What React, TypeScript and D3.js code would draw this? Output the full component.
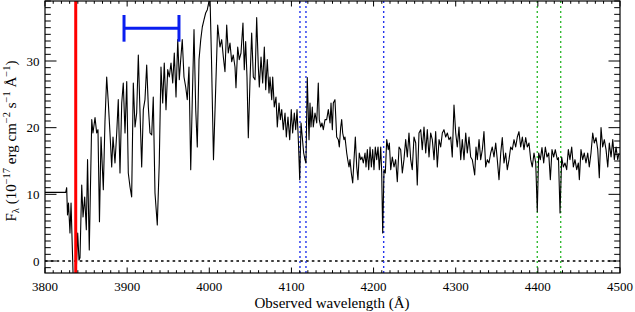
import React from 'react';
import * as d3 from 'd3';

// Observed wavelength (Å)
const wavelength = [
  3800, 3825.2, 3826.4, 3827.4, 3828.6, 3830.4, 3831.7, 3833.7, 3834.7, 3836.5, 3838.3, 3839.8, 3841.4, 3842.6,
  3844.7, 3846.3, 3848.3, 3850.3, 3851.8, 3853.9, 3856.9, 3858.4, 3860.9, 3862.9, 3864.5, 3866.3, 3868.2, 3871.0,
  3873.0, 3875.1, 3877.1, 3879.1, 3881.2, 3882.8, 3885.2, 3887.3, 3889.2, 3891.3, 3893.4, 3895.3, 3897.4, 3899.5,
  3901.4, 3903.5, 3905.5, 3907.5, 3909.6, 3911.6, 3913.6, 3915.7, 3917.7, 3919.7, 3921.7, 3923.8, 3925.8, 3927.8,
  3929.9, 3931.8, 3933.9, 3936.7, 3939.1, 3941.2, 3943.3, 3945.2, 3947.3, 3949.4, 3951.3, 3953.4, 3955.5, 3957.4,
  3959.5, 3961.6, 3963.5, 3965.2, 3967.1, 3969.2, 3971.3, 3973.2, 3975.3, 3977.4, 3979.3, 3981.4, 3983.5, 3985.4,
  3987.5, 3989.6, 3991.5, 3993.6, 3995.6, 3997.6, 3999.7, 4000.9, 4002.7, 4005.1, 4010.2, 4013.0, 4015.1, 4017.1,
  4019.1, 4021.2, 4023.1, 4025.2, 4027.3, 4029.2, 4031.3, 4032.5, 4034.6, 4036.5, 4038.6, 4041.0, 4042.6, 4044.3,
  4045.9, 4047.5, 4049.6, 4051.6, 4053.6, 4055.7, 4057.7, 4059.7, 4060.9, 4063.0, 4065.0, 4067.0, 4068.7, 4070.6,
  4072.7, 4073.9, 4076.0, 4077.2, 4079.1, 4081.2, 4082.8, 4084.9, 4086.5, 4088.2, 4090.1, 4092.2, 4093.8, 4095.8,
  4097.9, 4099.8, 4101.5, 4103.5, 4105.2, 4106.8, 4108.4, 4110.1, 4111.7, 4113.2, 4114.9, 4116.5, 4117.7, 4119.3,
  4121.4, 4122.6, 4123.8, 4125.4, 4126.6, 4128.7, 4130.8, 4132.7, 4133.9, 4135.6, 4137.2, 4138.8, 4140.9, 4142.9,
  4144.9, 4147.0, 4148.2, 4149.8, 4151.0, 4153.0, 4155.1, 4157.1, 4158.3, 4160.0, 4161.2, 4162.4, 4164.0, 4165.2,
  4167.3, 4168.5, 4170.1, 4171.3, 4172.9, 4174.6, 4176.2, 4177.8, 4179.5, 4181.0, 4182.6, 4184.3, 4185.9, 4187.5,
  4189.6, 4190.8, 4192.4, 4194.1, 4195.7, 4197.3, 4198.9, 4200.5, 4202.1, 4203.8, 4205.4, 4207.0, 4208.7, 4209.9,
  4211.1, 4212.7, 4214.3, 4216.0, 4217.9, 4219.2, 4220.9, 4222.8, 4224.9, 4226.9, 4228.9, 4231.0, 4233.0, 4235.0,
  4237.0, 4239.1, 4241.1, 4243.1, 4245.2, 4247.1, 4249.2, 4251.3, 4253.2, 4255.3, 4257.4, 4259.3, 4261.4, 4263.5,
  4265.4, 4267.5, 4269.5, 4271.5, 4273.6, 4275.6, 4277.6, 4279.7, 4281.7, 4283.7, 4285.7, 4287.8, 4289.8, 4291.8,
  4293.9, 4295.8, 4297.9, 4300.0, 4301.9, 4304.0, 4306.1, 4308.0, 4310.1, 4312.2, 4314.1, 4316.2, 4318.2, 4320.2,
  4323.1, 4324.7, 4326.3, 4328.4, 4330.4, 4332.4, 4334.4, 4336.5, 4338.5, 4340.5, 4342.6, 4344.5, 4346.6, 4348.7,
  4350.6, 4352.7, 4354.8, 4356.7, 4358.8, 4360.8, 4362.8, 4364.9, 4366.9, 4368.9, 4371.0, 4373.0, 4375.0, 4377.0,
  4379.1, 4381.1, 4383.1, 4385.2, 4387.1, 4389.2, 4391.3, 4393.2, 4395.3, 4397.4, 4399.3, 4401.0, 4403.0, 4405.0,
  4407.1, 4409.1, 4411.1, 4413.2, 4415.2, 4417.2, 4419.3, 4421.2, 4423.7, 4425.1, 4427.0, 4429.0, 4431.0, 4433.0,
  4435.1, 4437.1, 4439.1, 4441.2, 4443.2, 4445.2, 4447.3, 4449.3, 4450.5, 4452.5, 4454.6, 4456.5, 4458.6, 4460.7,
  4462.6, 4464.7, 4466.8, 4468.7, 4470.8, 4472.9, 4474.8, 4476.9, 4478.9, 4480.9, 4483.0, 4485.1, 4487.0, 4489.1,
  4491.2, 4493.1, 4495.2, 4497.2, 4498.8,
];

// F_lambda (1e-17 erg cm^-2 s^-1 Å^-1)
const flux = [
  10.3, 10.3, 11.0, 6.9, 8.7, 4.2, 8.7, 0.15, -4.4, -3.6, -0.6, 4.2, 0.15, 0.5,
  11.4, 6.6, 9.6, 4.7, 15.2, 1.65, 21.2, 19.2, 21.5, 19.2, 19.7, 5.9, 18.6, 10.7,
  20.9, 27.6, 23.7, 19.2, 14.1, 18.6, 14.7, 19.2, 24.2, 13.2, 23.7, 26.7, 19.2, 26.9,
  13.2, 11.1, 9.6, 26.7, 20.1, 22.2, 30.9, 22.2, 14.1, 22.7, 24.2, 29.4, 23.1, 19.2,
  18.9, 24.6, 10.2, 5.4, 14.7, 29.1, 23.7, 29.7, 22.7, 28.7, 27.6, 29.7, 26.7, 31.2,
  24.6, 33.2, 27.2, 30.2, 33.2, 27.6, 26.1, 24.2, 29.1, 13.7, 24.2, 34.7, 22.7, 17.1,
  30.2, 33.2, 35.1, 36.2, 37.2, 37.7, 39.0, 39.6, 30.2, 15.2, 35.4, 32.1, 33.2, 30.6,
  28.4, 35.4, 31.2, 32.7, 29.9, 30.9, 29.1, 26.0, 32.1, 30.2, 31.2, 35.7, 28.7, 32.9,
  27.6, 18.5, 27.2, 34.2, 27.6, 27.2, 36.5, 29.1, 26.1, 30.6, 26.7, 32.1, 25.7, 30.2,
  25.2, 27.6, 24.2, 27.6, 23.1, 24.6, 20.1, 23.7, 21.2, 22.7, 19.7, 22.2, 18.6, 21.6,
  18.2, 22.7, 19.2, 22.2, 19.7, 22.7, 18.2, 12.2, 20.7, 18.6, 16.2, 15.2, 14.7, 27.5,
  18.2, 23.7, 20.1, 23.1, 20.1, 22.2, 20.7, 26.7, 21.2, 20.1, 20.7, 19.7, 21.2, 21.2,
  22.7, 20.7, 23.7, 19.7, 23.7, 24.2, 18.6, 18.2, 17.1, 20.1, 21.2, 19.2, 18.2, 18.6,
  16.2, 15.2, 14.1, 15.2, 13.2, 11.7, 15.2, 18.6, 14.1, 12.2, 16.2, 15.2, 15.6, 14.7,
  16.2, 14.1, 16.7, 13.7, 17.1, 14.1, 16.7, 13.7, 17.1, 15.2, 17.1, 13.7, 17.1, 13.2,
  4.2, 13.7, 13.2, 18.2, 16.7, 17.7, 13.7, 15.6, 14.1, 15.2, 11.9, 17.1, 16.7, 13.2,
  15.2, 18.2, 15.6, 19.2, 15.2, 13.7, 18.6, 17.7, 11.4, 19.2, 19.7, 16.7, 20.1, 16.2,
  19.7, 15.6, 19.2, 18.2, 15.2, 19.4, 14.1, 18.2, 17.1, 19.2, 19.7, 18.6, 19.2, 18.2,
  18.6, 15.6, 23.4, 19.2, 17.1, 20.1, 15.2, 18.2, 15.2, 19.2, 16.2, 18.6, 15.6, 15.2,
  12.9, 17.1, 15.2, 18.2, 15.2, 16.7, 19.4, 14.1, 15.2, 14.7, 16.2, 17.1, 15.6, 17.7,
  15.2, 12.2, 16.2, 18.5, 14.7, 16.2, 13.7, 15.2, 17.1, 16.7, 18.2, 17.1, 18.6, 19.4,
  17.1, 18.6, 16.7, 18.5, 17.1, 17.7, 15.2, 14.1, 16.2, 14.7, 7.4, 16.2, 15.2, 17.0,
  14.7, 17.1, 15.6, 16.2, 12.2, 16.7, 15.6, 16.7, 15.2, 15.5, 7.2, 15.6, 14.1, 14.7,
  13.7, 16.7, 15.2, 17.1, 14.1, 15.2, 13.7, 14.7, 12.2, 16.7, 15.2, 16.2, 14.7, 16.2,
  14.1, 16.2, 19.2, 17.7, 18.5, 16.7, 12.5, 20.0, 17.1, 18.2, 16.7, 14.1, 17.7, 15.6,
  18.2, 15.2, 17.1, 15.2, 16.2,
];

const xMajorTicks = [3800, 3900, 4000, 4100, 4200, 4300, 4400, 4500];
const yMajorTicks = [0, 10, 20, 30];
const xDomain = [3800, 4500];
const yDomain = [-1.8, 39];

const redLines = [3837.4];
const blueLines = [4110.4, 4117.7, 4212.3];
const greenLines = [4399.3, 4427.8];
const errBarX = [3896.2, 3963.1];
const errBarY = [34.9];
const errBarCap = [2.0];

export default function App() {
  const W = 635, H = 312;
  const L = 45, R = 620, T = 1, B = 273;
  const x = d3.scaleLinear().domain(xDomain).range([L, R]);
  const y = d3.scaleLinear().domain(yDomain).range([B, T]);
  const pts: [number, number][] = wavelength.map((w, i) => [w, flux[i]]);
  const line = d3.line<[number, number]>().x(d => x(d[0])).y(d => y(d[1]));
  const xMinor = d3.range(3800, 4501, 10);
  const yMinor = d3.range(-1, 39.01, 1);
  const font = "'Liberation Serif', 'DejaVu Serif', serif";
  const tickCol = '#000';

  return (
    <div style={{ position: 'absolute', left: 0, top: 0 }}>
      <svg width={W} height={H} style={{ display: 'block', background: '#fff' }} fontFamily={font}>
        <defs>
          <clipPath id="plotclip">
            <rect x={L} y={T} width={R - L} height={B - T} />
          </clipPath>
        </defs>
        <rect x={0} y={0} width={W} height={H} fill="#fff" />
        <g clipPath="url(#plotclip)">
          {/* zero line */}
          <line x1={L} x2={R} y1={y(0)} y2={y(0)} stroke="#000" strokeWidth={1.3} strokeDasharray="2.6,3.2" />
          {blueLines.map((w, i) => (
            <line key={'b' + i} x1={x(w)} x2={x(w)} y1={T} y2={B} stroke="#2233ee" strokeWidth={1.4} strokeDasharray="2,3" />
          ))}
          {greenLines.map((w, i) => (
            <line key={'g' + i} x1={x(w)} x2={x(w)} y1={T} y2={B} stroke="#33bb33" strokeWidth={1.4} strokeDasharray="2,3" />
          ))}
          <path d={line(pts) || ''} fill="none" stroke="#000" strokeWidth={1.1} strokeLinejoin="round" />
          {redLines.map((w, i) => (
            <line key={'r' + i} x1={x(w)} x2={x(w)} y1={T} y2={B} stroke="#ff0000" strokeWidth={3} />
          ))}
          {/* error bar */}
          <line x1={x(errBarX[0])} x2={x(errBarX[1])} y1={y(errBarY[0])} y2={y(errBarY[0])} stroke="#0a1ef0" strokeWidth={3} />
          {errBarX.map((w, i) => (
            <line key={'c' + i} x1={x(w)} x2={x(w)} y1={y(errBarY[0] - errBarCap[0])} y2={y(errBarY[0] + errBarCap[0])} stroke="#0a1ef0" strokeWidth={3} />
          ))}
        </g>
        {/* frame */}
        <rect x={L} y={T} width={R - L} height={B - T} fill="none" stroke="#000" strokeWidth={1.2} />
        {/* x ticks */}
        {xMinor.map((v) => {
          const major = v % 100 === 0;
          const len = major ? 5.5 : 2.8;
          return (
            <g key={'xt' + v}>
              <line x1={x(v)} x2={x(v)} y1={B} y2={B - len} stroke={tickCol} strokeWidth={1} />
              <line x1={x(v)} x2={x(v)} y1={T} y2={T + len} stroke={tickCol} strokeWidth={1} />
            </g>
          );
        })}
        {yMinor.map((v) => {
          const major = Math.abs(v % 10) < 1e-9;
          const len = major ? 11.5 : 5.8;
          return (
            <g key={'yt' + v}>
              <line x1={L} x2={L + len} y1={y(v)} y2={y(v)} stroke={tickCol} strokeWidth={1} />
              <line x1={R} x2={R - len} y1={y(v)} y2={y(v)} stroke={tickCol} strokeWidth={1} />
            </g>
          );
        })}
        {xMajorTicks.map((v) => (
          <text key={'xl' + v} x={x(v)} y={290.5} fontSize={13} textAnchor="middle" fill="#000">{v}</text>
        ))}
        {yMajorTicks.map((v) => (
          <text key={'yl' + v} x={39.5} y={y(v) + 4.5} fontSize={13} textAnchor="end" fill="#000">{v}</text>
        ))}
        <text x={332} y={308} fontSize={15} textAnchor="middle" fill="#000">Observed wavelength (Å)</text>
        <text transform="translate(16,141) rotate(-90)" fontSize={15} textAnchor="middle" fill="#000">
          F<tspan fontSize={10.5} dy={3}>λ</tspan>
          <tspan dy={-3}> (10</tspan>
          <tspan fontSize={10.5} dy={-6}>−17</tspan>
          <tspan dy={6}> erg cm</tspan>
          <tspan fontSize={10.5} dy={-6}>−2</tspan>
          <tspan dy={6}> s</tspan>
          <tspan fontSize={10.5} dy={-6}>−1</tspan>
          <tspan dy={6}> Å</tspan>
          <tspan fontSize={10.5} dy={-6}>−1</tspan>
          <tspan dy={6}>)</tspan>
        </text>
      </svg>
    </div>
  );
}
